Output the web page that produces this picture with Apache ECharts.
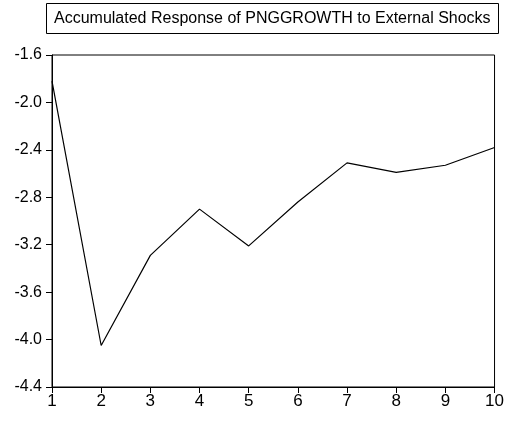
<!DOCTYPE html>
<html>
<head>
<meta charset="utf-8">
<script src="https://cdn.jsdelivr.net/npm/echarts@6/dist/echarts.min.js"></script>
<style>html,body{margin:0;padding:0;background:#fff;}#c{width:507px;height:421px;}</style>
</head>
<body>
<div id="c"></div>
<script>
var titleText = "Accumulated Response of PNGGROWTH to External Shocks";
var periods = ["1","2","3","4","5","6","7","8","9","10"];
var response = [-1.82, -4.05, -3.29, -2.90, -3.21, -2.84, -2.51, -2.59, -2.53, -2.38];
var yMin = -4.4, yMax = -1.6, yStep = 0.4;

var chart = echarts.init(document.getElementById('c'), null, {renderer:'canvas'});
chart.setOption({
  animation:false,
  backgroundColor:'#fff',
  title:{
    text:titleText,
    left:46, top:3,
    borderColor:'#000', borderWidth:1,
    padding:[7,8,7,8],
    textStyle:{fontSize:16, fontWeight:'normal', color:'#000', fontFamily:'Liberation Sans, Arial, sans-serif', lineHeight:17}
  },
  grid:{left:52, top:55, right:12, bottom:34, show:true, borderColor:'#000', borderWidth:1, containLabel:false},
  xAxis:{
    type:'category', data:periods, boundaryGap:false,
    axisLine:{lineStyle:{color:'#000', width:1}},
    axisTick:{show:true, length:6, lineStyle:{color:'#000'}},
    axisLabel:{color:'#000', fontSize:17, margin:6, fontFamily:'Liberation Sans, Arial, sans-serif'},
    splitLine:{show:false}
  },
  yAxis:{
    type:'value', min:yMin, max:yMax, interval:yStep,
    axisLine:{show:true, lineStyle:{color:'#000', width:1}},
    axisTick:{show:true, length:6, lineStyle:{color:'#000'}},
    axisLabel:{color:'#000', fontSize:16, margin:10, fontFamily:'Liberation Sans, Arial, sans-serif', formatter:function(v){return v.toFixed(1);}},
    splitLine:{show:false}
  },
  series:[{
    type:'line', data:response, showSymbol:false, symbol:'none',
    lineStyle:{color:'#000', width:1.2}
  }]
});
</script>
</body>
</html>
